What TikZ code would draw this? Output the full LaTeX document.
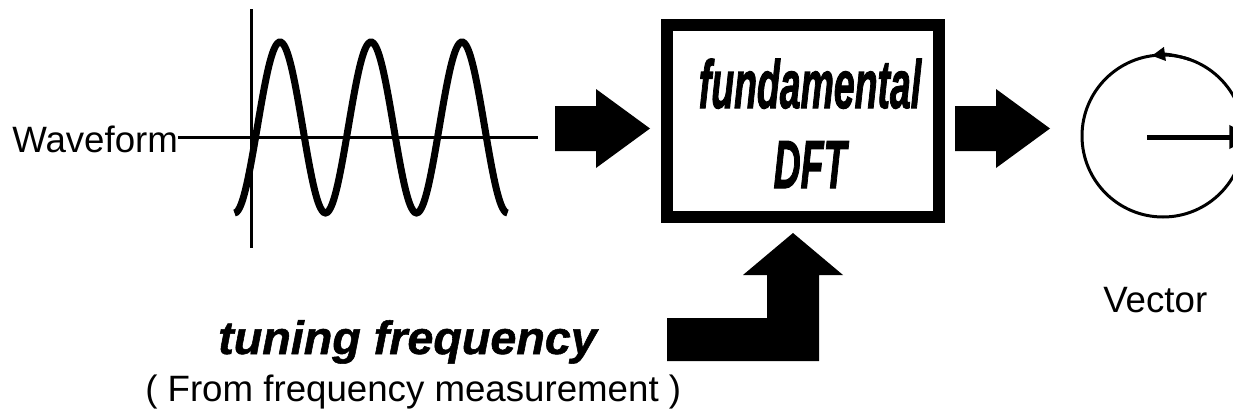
\documentclass[tikz,border=0pt]{standalone}
\usepackage{fontspec}
\setmainfont{Liberation Sans}
\newfontfamily\heavyfont{Liberation Sans}[BoldItalicFeatures={FakeBold=2}]
\newfontfamily\semiheavyfont{Liberation Sans}[BoldItalicFeatures={FakeBold=1.2}]
\usepackage{tikz}
\usetikzlibrary{arrows.meta,calc}

\begin{document}
\begin{tikzpicture}[x=0.75pt, y=-0.75pt,
    lbl/.style={inner sep=0pt, font=\fontsize{27.5}{33}\selectfont},
    boldlbl/.style={inner sep=0pt, font=\heavyfont\fontsize{51}{60}\selectfont\bfseries\itshape},
    axisline/.style={line width=2.25pt},
    wave/.style={line width=5.25pt},
    dftbox/.style={draw, line width=9pt, minimum width=204pt, minimum height=144pt, inner sep=0pt},
    blockarrow/.style={fill=black, draw=none}]
    \useasboundingbox (0,0) rectangle (1233,414);
    % waveform
    \node[lbl, anchor=base west] (wavelbl) at (12,152) {Waveform};
    \coordinate (axisR) at (538,137);
    \coordinate (axisT) at (251,9);
    \coordinate (axisB) at (251,248);
    \draw[axisline] (wavelbl.east |- axisR) -- (axisR);
    \draw[axisline] (axisT) -- (axisB);
    \draw[wave] plot[domain=234.5:507.5, samples=160, smooth] (\x, {127.5+85.5*cos((\x-234.5)*3.95604)});
    % arrows into and out of the box
    \fill[blockarrow] (555,106) -- (596,106) -- (596,89) -- (650,128.5) -- (596,168) -- (596,151) -- (555,151) -- cycle;
    \fill[blockarrow] (955,106) -- (996,106) -- (996,89) -- (1050,128.5) -- (996,168) -- (996,151) -- (955,151) -- cycle;
    % DFT box
    \node[dftbox] (dft) at (803,121) {};
    \node[boldlbl, anchor=base] (fundlbl) at (810,108) {\scalebox{0.55}[1]{fundamental}};
    \node[boldlbl, anchor=base] (dftlbl) at (810,188) {\scalebox{0.55}[1]{DFT}};
    % tuning input
    \fill[blockarrow] (667,318) -- (767,318) -- (767,275) -- (743,275) -- (793,233) -- (843,275) -- (819,275) -- (819,361) -- (667,361) -- cycle;
    \node[inner sep=0pt, font=\semiheavyfont\fontsize{35}{42}\selectfont\bfseries\itshape, anchor=base west] (tuning) at (218,354) {tuning frequency};
    \node[lbl, anchor=base west] (fromlbl) at (145,401) {( From frequency measurement )};
    % vector
    \coordinate (vc) at (1163,136);
    \draw[line width=2.25pt] (vc) circle[radius=81];
    \draw[line width=2.25pt, -{Triangle[length=10pt, width=10pt]}] ($(vc)+(290:81)$) arc[start angle=290, end angle=262, radius=81];
    \coordinate (vtail) at (1147,137);
    \coordinate (vtip) at (1252,137);
    \draw[line width=3.75pt, -{Triangle[length=17pt, width=17pt]}] (vtail) -- (vtip);
    \node[lbl, anchor=base west] (vectorlbl) at (1103,312) {Vector};
\end{tikzpicture}
\end{document}
